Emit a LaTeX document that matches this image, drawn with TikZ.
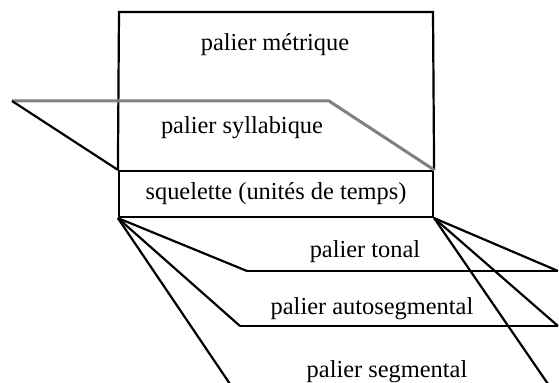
\documentclass[tikz,border=0pt]{standalone}
\usepackage{fontspec}
\setmainfont{Liberation Serif}
\begin{document}
\begin{tikzpicture}[x=0.5pt,y=-0.5pt,line width=1.1pt]
    \tikzstyle{palier}=[inner sep=0pt, font=\fontsize{12.2}{14}\selectfont]
    \tikzstyle{palier box}=[palier, draw, minimum width=157pt, minimum height=23pt]
    \tikzstyle{grey line}=[draw=black!50, line width=1.5pt]
    \useasboundingbox (0,0) rectangle (559,383);

    % The skeleton box and the metrical box on top of it
    \node[palier box] (S) at (276,194) {squelette (unités de temps)};
    \coordinate (M-w) at (119,12);
    \coordinate (M-e) at (433,12);
    \draw (S.north west) -- (M-w) -- (M-e) -- (S.north east);
    \node[palier] (Mt) at (275,45) {palier métrique};

    % Syllabic plane
    \coordinate (Y-w) at (12,101);
    \coordinate (Y-e) at (329,101);
    \draw[grey line] (Y-w) -- (Y-e) -- (S.north east);
    \draw (Y-w) -- (S.north west);
    \node[palier] (Yt) at (242,128) {palier syllabique};

    % Planes below the skeleton
    \coordinate (T-w) at (247,271);
    \coordinate (T-e) at (558,271);
    \coordinate (A-w) at (240,326);
    \coordinate (A-e) at (558,326);
    \coordinate (G-w) at (230,384);
    \coordinate (G-e) at (548,384);
    \foreach \p in {T,A}
        \draw (\p-w) -- (\p-e);
    \foreach \p in {T,A,G}
        \draw (S.south west) -- (\p-w) (S.south east) -- (\p-e);

    \node[palier] (Tt) at (365,252) {palier tonal};
    \node[palier] (At) at (372,309) {palier autosegmental};
    \node[palier] (Gt) at (387,372) {palier segmental};
\end{tikzpicture}
\end{document}
